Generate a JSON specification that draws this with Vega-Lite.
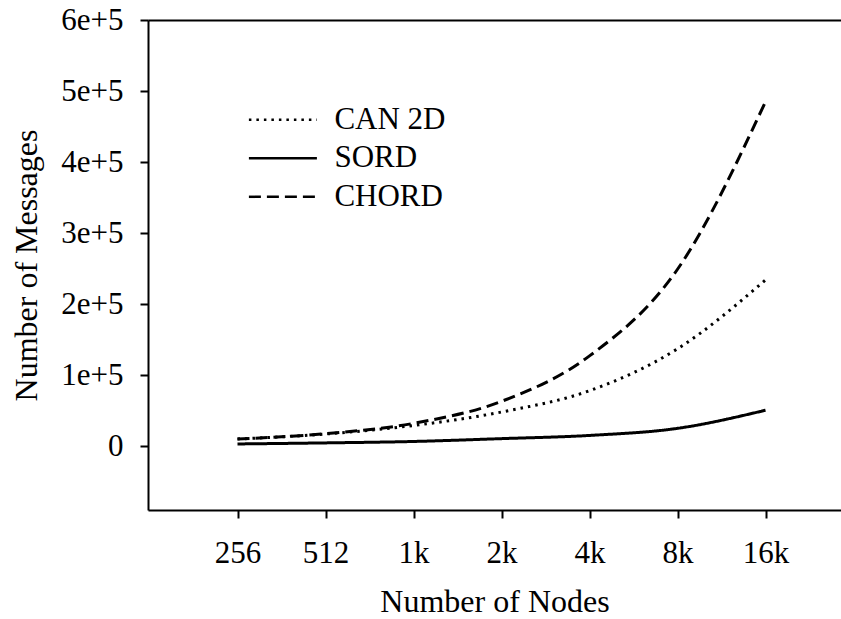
{
  "$schema": "https://vega.github.io/schema/vega-lite/v6.json",
  "width": 693,
  "height": 490,
  "autosize": {"type": "none"},
  "padding": {"left": 148, "top": 20, "right": 0, "bottom": 109},
  "background": "white",
  "config": {
    "view": {"stroke": null},
    "font": "Liberation Serif",
    "axis": {
      "labelFont": "Liberation Serif",
      "titleFont": "Liberation Serif",
      "labelColor": "black",
      "titleColor": "black",
      "titleFontWeight": "normal",
      "domainColor": "black",
      "domainWidth": 2,
      "tickColor": "black",
      "tickWidth": 2,
      "tickSize": 8
    }
  },
  "data": {
    "values": [
      {"nodes": 256, "protocol": "CAN 2D", "messages": 10000},
      {"nodes": 512, "protocol": "CAN 2D", "messages": 17000},
      {"nodes": 1024, "protocol": "CAN 2D", "messages": 29000},
      {"nodes": 2048, "protocol": "CAN 2D", "messages": 48000},
      {"nodes": 4096, "protocol": "CAN 2D", "messages": 78000},
      {"nodes": 8192, "protocol": "CAN 2D", "messages": 137000},
      {"nodes": 16384, "protocol": "CAN 2D", "messages": 234000},
      {"nodes": 256, "protocol": "SORD", "messages": 3000},
      {"nodes": 512, "protocol": "SORD", "messages": 4500},
      {"nodes": 1024, "protocol": "SORD", "messages": 6500},
      {"nodes": 2048, "protocol": "SORD", "messages": 10500},
      {"nodes": 4096, "protocol": "SORD", "messages": 15000},
      {"nodes": 8192, "protocol": "SORD", "messages": 25000},
      {"nodes": 16384, "protocol": "SORD", "messages": 50500},
      {"nodes": 256, "protocol": "CHORD", "messages": 10000},
      {"nodes": 512, "protocol": "CHORD", "messages": 17500},
      {"nodes": 1024, "protocol": "CHORD", "messages": 32000},
      {"nodes": 2048, "protocol": "CHORD", "messages": 63000},
      {"nodes": 4096, "protocol": "CHORD", "messages": 127000},
      {"nodes": 8192, "protocol": "CHORD", "messages": 249000},
      {"nodes": 16384, "protocol": "CHORD", "messages": 485000}
    ]
  },
  "mark": {"type": "line", "interpolate": "monotone", "color": "black", "strokeWidth": 3},
  "encoding": {
    "x": {
      "field": "nodes",
      "type": "quantitative",
      "scale": {"type": "log", "base": 2, "domain": [126.5, 29690], "nice": false},
      "axis": {
        "values": [256, 512, 1024, 2048, 4096, 8192, 16384],
        "labelExpr": "datum.value < 1000 ? '' + datum.value : (datum.value / 1024) + 'k'",
        "title": "Number of Nodes",
        "grid": false,
        "labelFontSize": 31,
        "labelPadding": 20,
        "labelFlush": false,
        "labelOverlap": false,
        "titleFontSize": 32,
        "titleY": 101,
        "titleBaseline": "alphabetic"
      }
    },
    "y": {
      "field": "messages",
      "type": "quantitative",
      "scale": {"domain": [-90000, 600000], "nice": false, "zero": false},
      "axis": {
        "values": [0, 100000, 200000, 300000, 400000, 500000, 600000],
        "labelExpr": "datum.value == 0 ? '0' : (datum.value / 100000) + 'e+5'",
        "title": "Number of Messages",
        "grid": true,
        "gridColor": "black",
        "gridWidth": 2,
        "gridOpacity": {"condition": {"test": "datum.value === 600000", "value": 1}, "value": 0},
        "labelFontSize": 31,
        "labelPadding": 17,
        "labelFlush": false,
        "labelOverlap": false,
        "titleFontSize": 32,
        "titleX": -112,
        "titleY": 245,
        "titleBaseline": "alphabetic"
      }
    },
    "strokeDash": {
      "field": "protocol",
      "type": "nominal",
      "scale": {"domain": ["CAN 2D", "SORD", "CHORD"], "range": [[2.5, 5], [1, 0], [12, 6]]},
      "legend": {
        "orient": "none",
        "legendX": 119.4,
        "legendY": 84.3,
        "title": null,
        "padding": 0,
        "symbolType": "M-5,0H5",
        "symbolSize": 185,
        "symbolStrokeWidth": 2.5,
        "symbolStrokeColor": "black",
        "labelFont": "Liberation Serif",
        "labelFontSize": 31,
        "labelColor": "black",
        "labelOffset": 36,
        "rowPadding": 6.5
      }
    }
  }
}
